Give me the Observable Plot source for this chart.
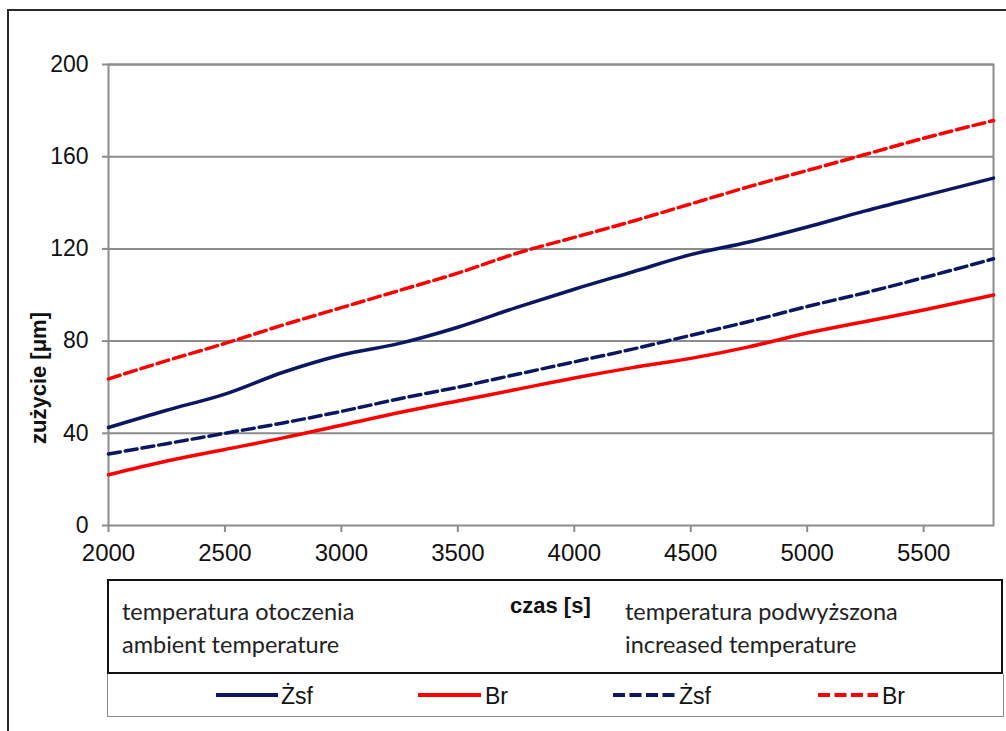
<!DOCTYPE html>
<html>
<head>
<meta charset="utf-8">
<script src="https://cdn.jsdelivr.net/npm/d3@7"></script>
<script src="https://cdn.jsdelivr.net/npm/@observablehq/plot@0.6"></script>
<style>
  html, body { margin: 0; padding: 0; background: #fff; }
  #wrap { position: relative; width: 1006px; height: 731px; overflow: hidden; background: #fff; }
  .abs { position: absolute; }
  .frame { left: 7px; top: 9px; width: 1100px; height: 800px; border-left: 2px solid #2a2a2a; border-top: 2px solid #2a2a2a; }
  .ylab { left: -62px; top: 366px; width: 200px; height: 24px; line-height: 24px; text-align: center;
          transform: rotate(-90deg); font: bold 22px "Liberation Sans", Arial, sans-serif; color: #111; white-space: nowrap; }
  .box { left: 107px; top: 579px; width: 896px; height: 95px; border: 2px solid #111; box-sizing: border-box; }
  .legbox { left: 107px; top: 674px; width: 897px; height: 43px; border: 1.5px solid #8a8a8a; border-top: none; box-sizing: border-box; }
  .t { font: 23.5px Lato, "Open Sans", sans-serif; color: #222; line-height: 24px; white-space: nowrap; }
  .b { font: bold 22px "Liberation Sans", Arial, sans-serif; color: #111; line-height: 22px; white-space: nowrap; }
  .lg { font: 23px "Liberation Sans", Arial, sans-serif; color: #111; line-height: 23px; white-space: nowrap; }
</style>
</head>
<body>
<div id="wrap">
  <div class="abs frame"></div>
  <div id="chart" class="abs" style="left:0;top:0"></div>
  <div class="abs ylab">zużycie [μm]</div>
  <div class="abs box"></div>
  <div class="abs legbox"></div>
  <div class="abs t" style="left:122px;top:599px">temperatura otoczenia</div>
  <div class="abs t" style="left:122px;top:632px">ambient temperature</div>
  <div class="abs b" style="left:510px;top:595px">czas [s]</div>
  <div class="abs t" style="left:625px;top:599px">temperatura podwyższona</div>
  <div class="abs t" style="left:625px;top:632px">increased temperature</div>
  <div id="legend"></div>
</div>
<script>
// ---- data ----
const czas = [2000, 2250, 2500, 2750, 3000, 3250, 3500, 3750, 4000, 4250, 4500, 4750, 5000, 5250, 5500, 5800];
const zsfOtoczenia   = [42.5, 50, 57, 66.5, 74, 79, 86, 94.5, 102.5, 110, 117.5, 123, 129.5, 136.5, 143, 150.7];
const brOtoczenia    = [22, 28, 33, 38, 43.5, 49, 54, 59, 64, 68.5, 72.5, 77.5, 83.5, 88.5, 93.5, 100];
const zsfPodwyzszona = [31, 35.5, 40, 44.5, 49.5, 55, 60, 65.5, 71, 76.5, 82.5, 88.5, 95, 101, 107.5, 115.7];
const brPodwyzszona  = [63.6, 71.5, 79, 87, 94.5, 102, 109.5, 118, 125, 132, 139.5, 147, 154, 161, 168, 175.7];
const xTicks = [2000, 2500, 3000, 3500, 4000, 4500, 5000, 5500];
const yTicks = [0, 40, 80, 120, 160, 200];
const seriesNames = ["Żsf", "Br", "Żsf", "Br"];

const NAVY = "#0b1760", RED = "#ff0000", GRID = "#8c8c8c";
const seriesDefs = [
  {values: zsfOtoczenia, color: NAVY, dash: null},
  {values: brOtoczenia, color: RED, dash: null},
  {values: zsfPodwyzszona, color: NAVY, dash: "12,5"},
  {values: brPodwyzszona, color: RED, dash: "12,5"}
];
const rows = s => czas.map((x, i) => ({czas: x, v: s.values[i]}));

const chart = Plot.plot({
  width: 1006,
  height: 575,
  marginLeft: 108,
  marginRight: 13,
  marginTop: 64,
  marginBottom: 50,
  style: {background: "transparent", overflow: "visible", fontFamily: "'Liberation Sans', Arial, sans-serif", color: "#111"},
  x: {domain: [2000, 5800], label: null},
  y: {domain: [0, 200], label: null},
  marks: [
    Plot.ruleY(yTicks.filter(d => d > 0), {stroke: GRID, strokeWidth: 2}),
    Plot.frame({stroke: GRID, strokeWidth: 2}),
    Plot.axisX({ticks: xTicks, tickSize: 7, tickPadding: 11, stroke: GRID, strokeWidth: 2, fill: "#111",
                fontSize: 24, tickFormat: d => String(d), label: null}),
    Plot.axisY({ticks: yTicks, tickSize: 6, tickPadding: 14, stroke: GRID, strokeWidth: 2, fill: "#111",
                fontSize: 23, label: null}),
    ...seriesDefs.map(s => Plot.line(rows(s), {
      x: "czas", y: "v", stroke: s.color, strokeWidth: 3.5,
      strokeDasharray: s.dash || undefined, curve: "monotone-x"
    }))
  ]
});
document.getElementById("chart").appendChild(chart);

// ---- legend (HTML, below the chart) ----
const legendPos = [
  {sx: 216, sw: 62, tx: 281},
  {sx: 418, sw: 63, tx: 485},
  {sx: 613, sw: 64, tx: 679},
  {sx: 818, sw: 60, tx: 882}
];
const leg = document.getElementById("legend");
seriesDefs.forEach((s, i) => {
  const p = legendPos[i];
  const svgNS = "http://www.w3.org/2000/svg";
  const sw = document.createElementNS(svgNS, "svg");
  sw.setAttribute("width", p.sw);
  sw.setAttribute("height", 8);
  sw.setAttribute("class", "abs");
  sw.style.left = p.sx + "px";
  sw.style.top = "691px";
  const ln = document.createElementNS(svgNS, "line");
  ln.setAttribute("x1", 0); ln.setAttribute("x2", p.sw);
  ln.setAttribute("y1", 4); ln.setAttribute("y2", 4);
  ln.setAttribute("stroke", s.color);
  ln.setAttribute("stroke-width", 4);
  if (s.dash) ln.setAttribute("stroke-dasharray", "12,4.5");
  sw.appendChild(ln);
  leg.appendChild(sw);
  const tx = document.createElement("div");
  tx.className = "abs lg";
  tx.style.left = p.tx + "px";
  tx.style.top = "685px";
  tx.textContent = seriesNames[i];
  leg.appendChild(tx);
});
</script>
</body>
</html>
